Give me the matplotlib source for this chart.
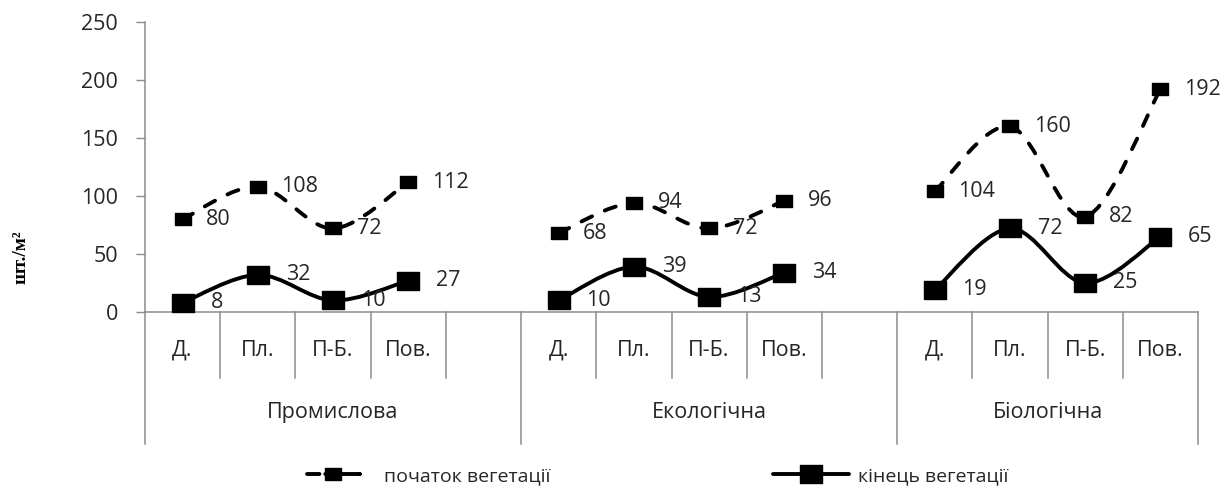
import matplotlib
matplotlib.use('Agg')
import matplotlib.pyplot as plt
from matplotlib.path import Path
from matplotlib.patches import PathPatch
from matplotlib.lines import Line2D
from matplotlib.transforms import blended_transform_factory

GROUPS = ['Промислова', 'Екологічна', 'Біологічна']
SUBGROUPS = ['Д.', 'Пл.', 'П-Б.', 'Пов.']
# slots each group takes on the category axis (first two end with an empty slot)
GROUP_SLOTS = [5, 5, 4]

START = [[80, 108, 72, 112],
         [68, 94, 72, 96],
         [104, 160, 82, 192]]
END = [[8, 32, 10, 27],
       [10, 39, 13, 34],
       [19, 72, 25, 65]]

SERIES_NAMES = ['початок вегетації', 'кінець вегетації']
Y_TICKS = [0, 50, 100, 150, 200, 250]
Y_LABEL = 'шт./м²'

W, H = 1227, 487
FONT = 'Open Sans'
TEXT = '#262626'
GRID = '#8c8c8c'

# rectangle markers, a bit wider than tall
RECT = [(-1.0, -0.78), (1.0, -0.78), (1.0, 0.78), (-1.0, 0.78), (-1.0, -0.78)]

DASHED = dict(lw=2.8, ls=(0, (3.0, 3.6)), ms=11)
SOLID = dict(lw=2.8, ls='-', ms=16)


def smooth_path(xs, ys):
    '''Bezier path through the points, the way spreadsheet "smoothed lines" do it.'''
    pts = list(zip(xs, ys))
    verts = [pts[0]]
    codes = [Path.MOVETO]
    n = len(pts)
    for i in range(n - 1):
        p0 = pts[max(i - 1, 0)]
        p1 = pts[i]
        p2 = pts[i + 1]
        p3 = pts[min(i + 2, n - 1)]
        c1 = (p1[0] + (p2[0] - p0[0]) / 6, p1[1] + (p2[1] - p0[1]) / 6)
        c2 = (p2[0] - (p3[0] - p1[0]) / 6, p2[1] - (p3[1] - p1[1]) / 6)
        verts += [c1, c2, p2]
        codes += [Path.CURVE4] * 3
    return Path(verts, codes)


fig = plt.figure(figsize=(W / 100, H / 100), dpi=100)
left, right, top, bottom = 145, 1198, 22, 312
ax = fig.add_axes([left / W, 1 - bottom / H, (right - left) / W, (bottom - top) / H])

n_slots = sum(GROUP_SLOTS)
offsets = [sum(GROUP_SLOTS[:g]) for g in range(len(GROUPS))]

for data, style, lab_off in ((START, DASHED, 17), (END, SOLID, 20)):
    for g, vals in enumerate(data):
        xs = [offsets[g] + i for i in range(len(vals))]
        patch = PathPatch(smooth_path(xs, vals), fill=False, edgecolor='black',
                          lw=style['lw'], linestyle=style['ls'], capstyle='round',
                          joinstyle='round', clip_on=False, zorder=3)
        ax.add_patch(patch)
        ax.plot(xs, vals, ls='none', marker=RECT, ms=style['ms'], color='black',
                clip_on=False, zorder=4)
        for x, v in zip(xs, vals):
            ax.annotate(str(v), (x, v), xytext=(lab_off, 0), textcoords='offset points',
                        ha='left', va='center', fontsize=15.5, family=FONT, color=TEXT,
                        zorder=5, annotation_clip=False)

ax.set_xlim(-0.5, n_slots - 0.5)
ax.set_ylim(0, 250)
ax.set_yticks(Y_TICKS)
ax.set_xticks([])
for lbl in ax.get_yticklabels():
    lbl.set_family(FONT)
ax.tick_params(axis='y', direction='out', length=6.5, width=1, color=GRID,
               pad=13, labelsize=15.5, labelcolor=TEXT)
for side in ('top', 'right'):
    ax.spines[side].set_visible(False)
for side in ('left', 'bottom'):
    ax.spines[side].set_color(GRID)
    ax.spines[side].set_linewidth(1.1)

# category table under the axis
trans = blended_transform_factory(ax.transData, ax.transAxes)
ax_h = bottom - top
cell_depth = -66 / ax_h
group_depth = -132 / ax_h
group_edges = [offsets[g] - 0.5 for g in range(len(GROUPS))] + [n_slots - 0.5]
for k in range(n_slots + 1):
    x = k - 0.5
    depth = group_depth if x in group_edges else cell_depth
    ax.plot([x, x], [0, depth], color=GRID, lw=1.1, transform=trans, clip_on=False)

for g, name in enumerate(GROUPS):
    for i, sub in enumerate(SUBGROUPS):
        ax.text(offsets[g] + i, -38 / ax_h, sub, transform=trans, ha='center', va='center',
                fontsize=15.5, family=FONT, color=TEXT)
    mid = (group_edges[g] + group_edges[g + 1]) / 2
    ax.text(mid, -101 / ax_h, name, transform=trans, ha='center', va='center',
            fontsize=15.5, family=FONT, color=TEXT)

fig.text(21 / W, 1 - 257 / H, Y_LABEL, rotation=90, ha='center', va='center',
         family='Liberation Serif', weight='bold', fontsize=14, color='black')

# legend, two separate entries along the bottom edge
h1 = Line2D([], [], color='black', lw=DASHED['lw'], ls=(0, (3.2, 1.5, 8.8, 0.1)),
            marker=RECT, ms=DASHED['ms'], dash_capstyle='round')
h2 = Line2D([], [], color='black', lw=SOLID['lw'], ls='-', marker=RECT, ms=SOLID['ms'],
            solid_capstyle='round')
leg_props = dict(prop={'family': FONT, 'size': 14}, frameon=False, loc='center left',
                 borderpad=0, borderaxespad=0, labelcolor=TEXT)
fig.legend([h1], [SERIES_NAMES[0]], bbox_to_anchor=(307 / W, 1 - 476 / H),
           handlelength=2.7, handletextpad=1.25, **leg_props)
fig.legend([h2], [SERIES_NAMES[1]], bbox_to_anchor=(773 / W, 1 - 476 / H),
           handlelength=3.9, handletextpad=0.45, **leg_props)

fig.savefig('out.png', dpi=100)
